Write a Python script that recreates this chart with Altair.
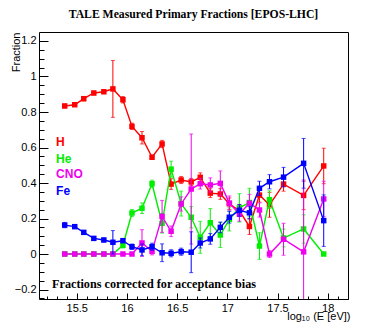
import altair as alt
import pandas as pd

# ---- data ----
energy = [15.38, 15.48, 15.57, 15.67, 15.77, 15.86, 15.96, 16.05, 16.15, 16.25,
          16.35, 16.44, 16.54, 16.64, 16.73, 16.83, 16.93, 17.02, 17.12, 17.22,
          17.32, 17.42, 17.56, 17.76, 17.96]

frac_H = [0.834, 0.841, 0.875, 0.907, 0.914, 0.930, 0.869, 0.719, 0.655, 0.545,
          0.620, 0.394, 0.417, 0.406, 0.432, 0.343, 0.338, 0.283, 0.244, 0.155,
          0.332, 0.277, 0.394, 0.330, 0.496]
err_H = [0.010, 0.010, 0.012, 0.010, 0.010, 0.160, 0.018, 0.018, 0.035, 0.012,
         0.020, 0.030, 0.020, 0.020, 0.025, 0.025, 0.030, 0.033, 0.033, 0.045,
         0.040, 0.070, 0.040, 0.080, 0.100]

frac_He = [0.0, 0.0, 0.0, 0.0, 0.0, 0.0, 0.049, 0.231, 0.258, 0.396,
           0.173, 0.478, 0.284, 0.207, 0.094, 0.176, 0.107, 0.195, 0.260, 0.290,
           0.045, 0.306, 0.090, 0.141, 0.0]
err_He = [0.0, 0.0, 0.0, 0.0, 0.0, 0.0, 0.015, 0.020, 0.030, 0.020,
          0.055, 0.045, 0.070, 0.060, 0.090, 0.080, 0.070, 0.065, 0.080, 0.080,
          0.075, 0.050, 0.050, 0.080, 0.0]

frac_CNO = [0.0, 0.0, 0.0, 0.0, 0.0, 0.0, 0.0, 0.0, 0.062, 0.015,
            0.212, 0.128, 0.282, 0.366, 0.396, 0.389, 0.398, 0.287, 0.225, 0.286,
            0.248, 0.0, 0.083, 0.012, 0.310]
err_CNO = [0.0, 0.0, 0.0, 0.0, 0.0, 0.0, 0.0, 0.0, 0.075, 0.020,
           0.090, 0.030, 0.040, 0.310, 0.030, 0.040, 0.070, 0.040, 0.040, 0.050,
           0.040, 0.020, 0.090, 0.405, 0.100]

frac_Fe = [0.163, 0.154, 0.122, 0.088, 0.079, 0.066, 0.075, 0.041, 0.023, 0.041,
           0.007, 0.004, 0.013, 0.010, 0.062, 0.085, 0.150, 0.207, 0.246, 0.232,
           0.370, 0.407, 0.433, 0.511, 0.188]
err_Fe = [0.015, 0.010, 0.010, 0.010, 0.010, 0.066, 0.010, 0.015, 0.033, 0.020,
          0.050, 0.020, 0.020, 0.115, 0.028, 0.030, 0.030, 0.033, 0.033, 0.035,
          0.040, 0.040, 0.055, 0.140, 0.145]

series_names = ["H", "He", "CNO", "Fe"]
series_colors = ["#ff0000", "#00ee00", "#ee00ee", "#0000ff"]
series_vals = [frac_H, frac_He, frac_CNO, frac_Fe]
series_errs = [err_H, err_He, err_CNO, err_Fe]

legend_x = [15.294, 15.294, 15.294, 15.294]
legend_y = [0.608, 0.514, 0.428, 0.332]

note_text = ["Fractions corrected for acceptance bias"]
note_x = [15.254]
note_y = [-0.189]

x_major = [15.5, 16, 16.5, 17, 17.5, 18]
x_minor = [round(15.2 + 0.1 * i, 1) for i in range(31)]
y_major = [-0.2, 0, 0.2, 0.4, 0.6, 0.8, 1, 1.2]
y_minor = [round(-0.25 + 0.05 * i, 2) for i in range(30)]

# ---- tables ----
rows = []
for name, vals, errs in zip(series_names, series_vals, series_errs):
    for e, v, er in zip(energy, vals, errs):
        rows.append({"E": e, "v": v, "lo": v - er, "hi": v + er, "err": er, "s": name})
df = pd.DataFrame(rows)

leg_df = pd.DataFrame({"s": series_names, "x": legend_x, "y": legend_y})
note_df = pd.DataFrame({"t": note_text, "x": note_x, "y": note_y})

W, H = 309, 267
xs = alt.Scale(domain=[15.124, 18.202], nice=False, zero=False)
ys = alt.Scale(domain=[-0.2535, 1.2507], nice=False, zero=False)
cscale = alt.Scale(domain=series_names, range=series_colors)

SANS = "Liberation Sans"
SERIF = "Liberation Serif"

base = alt.Chart(df)

# axis carrying labels and titles
axes_layer = base.mark_point(opacity=0).encode(
    x=alt.X("E:Q", scale=xs, axis=alt.Axis(
        values=x_major, format="~g", ticks=False, tickSize=0, domain=False, grid=False,
        labelFont=SANS, labelFontSize=11, labelColor="#000", labelPadding=3,
        title="log₁₀ (E [eV])", titleFont=SANS, titleFontSize=11, titleFontWeight="normal",
        titleColor="#000", titleX=311, titleY=20, titleAlign="right", titleAnchor="end",
        titleBaseline="alphabetic")),
    y=alt.Y("v:Q", scale=ys, axis=alt.Axis(
        values=y_major, format="~g", ticks=False, tickSize=0, domain=False, grid=False,
        labelFont=SANS, labelFontSize=11, labelColor="#000", labelPadding=3,
        title="Fraction", titleFont=SANS, titleFontSize=11, titleFontWeight="normal",
        titleColor="#000", titleX=-20, titleY=0, titleAngle=-90, titleAlign="right",
        titleBaseline="alphabetic")),
)

def tick_layer(xvals, xsize, yvals, ysize):
    return base.mark_point(opacity=0).encode(
        x=alt.X("E:Q", scale=xs, axis=alt.Axis(
            orient="top", offset=-H, values=xvals, tickSize=xsize, labels=False,
            domain=False, grid=False, title=None, tickColor="#000", tickWidth=1)),
        y=alt.Y("v:Q", scale=ys, axis=alt.Axis(
            orient="right", offset=-W, values=yvals, tickSize=ysize, labels=False,
            domain=False, grid=False, title=None, tickColor="#000", tickWidth=1)),
    )

minor_ticks = tick_layer(x_minor, 3, y_minor, 5)
major_ticks = tick_layer(x_major, 6, y_major, 9)

layers = [axes_layer, minor_ticks, major_ticks]

for name, col in zip(series_names, series_colors):
    sub = base.transform_filter(alt.datum.s == name)
    err_sub = sub.transform_filter(alt.datum.err > 0)
    layers.append(err_sub.mark_rule(color=col, strokeWidth=1, clip=True).encode(
        x=alt.X("E:Q", scale=xs, axis=None),
        y=alt.Y("lo:Q", scale=ys, axis=None), y2="hi:Q"))
    layers.append(err_sub.mark_tick(color=col, orient="horizontal", size=4, thickness=1, clip=True).encode(
        x=alt.X("E:Q", scale=xs, axis=None), y=alt.Y("lo:Q", scale=ys, axis=None)))
    layers.append(err_sub.mark_tick(color=col, orient="horizontal", size=4, thickness=1, clip=True).encode(
        x=alt.X("E:Q", scale=xs, axis=None), y=alt.Y("hi:Q", scale=ys, axis=None)))
    layers.append(sub.mark_line(color=col, strokeWidth=1.4).encode(
        x=alt.X("E:Q", scale=xs, axis=None), y=alt.Y("v:Q", scale=ys, axis=None)))
    layers.append(sub.mark_square(color=col, size=30, opacity=1).encode(
        x=alt.X("E:Q", scale=xs, axis=None), y=alt.Y("v:Q", scale=ys, axis=None)))

legend_layer = alt.Chart(leg_df).mark_text(
    align="left", baseline="alphabetic", font=SANS, fontSize=12, fontWeight="bold"
).encode(
    x=alt.X("x:Q", scale=xs, axis=None),
    y=alt.Y("y:Q", scale=ys, axis=None),
    text="s:N",
    color=alt.Color("s:N", scale=cscale, legend=None),
)

note_layer = alt.Chart(note_df).mark_text(
    align="left", baseline="alphabetic", font=SERIF, fontSize=12.2, fontWeight="bold", color="#000"
).encode(
    x=alt.X("x:Q", scale=xs, axis=None),
    y=alt.Y("y:Q", scale=ys, axis=None),
    text="t:N",
)

layers += [legend_layer, note_layer]

chart = alt.layer(*layers).resolve_axis(x="independent", y="independent").properties(
    width=W, height=H,
    padding={"left": 31, "top": 24, "right": 32, "bottom": 26},
    autosize=alt.AutoSizeParams(type="none"),
    background="white",
    title=alt.TitleParams(
        text="TALE Measured Primary Fractions [EPOS-LHC]", font=SERIF, fontSize=11.7,
        fontWeight="bold", color="#000", anchor="middle", baseline="alphabetic", offset=2.5),
).configure_view(stroke="#000", strokeWidth=1)

chart.save("out.html", embed_options={"renderer": "svg", "actions": False})
